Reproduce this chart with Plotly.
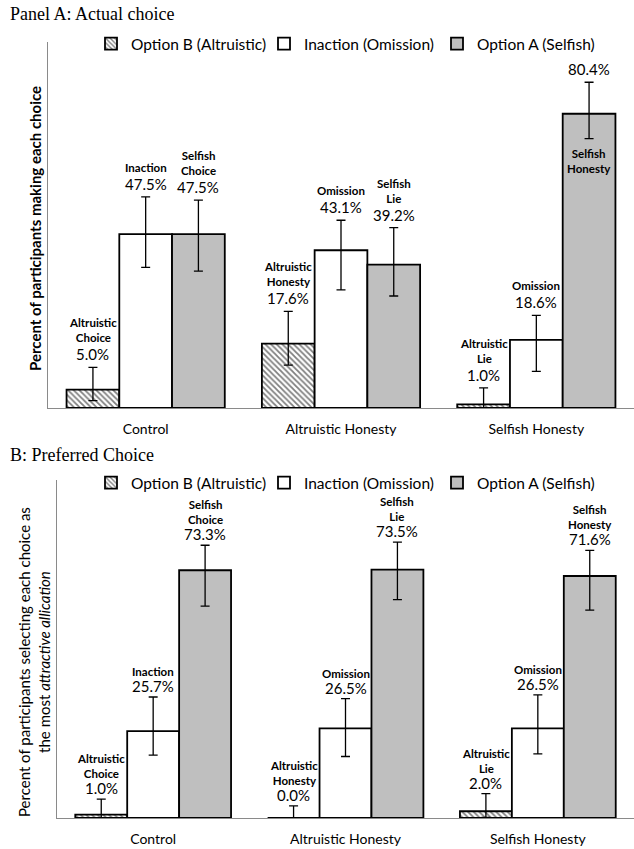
import plotly.graph_objects as go

# ---------------- data ----------------
categories = ["Control", "Altruistic Honesty", "Selfish Honesty"]
series_names = ["Option B (Altruistic)", "Inaction (Omission)", "Option A (Selfish)"]

# Panel A: actual choice (%)
a_altruistic = [5.0, 17.6, 1.0]
a_inaction = [47.5, 43.1, 18.6]
a_selfish = [47.5, 39.2, 80.4]
a_altruistic_up = [6.1, 8.8, 4.5]
a_altruistic_dn = [3.0, 5.9, 1.0]
a_inaction_up = [10.2, 8.2, 6.7]
a_inaction_dn = [9.1, 10.8, 8.6]
a_selfish_up = [9.3, 10.1, 8.6]
a_selfish_dn = [10.1, 8.6, 6.8]

# Panel B: preferred choice (%)
b_altruistic = [1.0, 0.0, 2.0]
b_inaction = [25.7, 26.5, 26.5]
b_selfish = [73.3, 73.5, 71.6]
b_altruistic_up = [4.6, 3.6, 5.2]
b_altruistic_dn = [1.0, 0.0, 1.8]
b_inaction_up = [10.1, 8.8, 9.9]
b_inaction_dn = [7.1, 8.3, 7.5]
b_selfish_up = [7.4, 8.1, 7.6]
b_selfish_dn = [10.6, 8.9, 10.1]

# bar name labels
altruistic_labels = ["Altruistic<br>Choice", "Altruistic<br>Honesty", "Altruistic<br>Lie"]
inaction_labels = ["Inaction", "Omission", "Omission"]
selfish_labels = ["Selfish<br>Choice", "Selfish<br>Lie", "Selfish<br>Honesty"]

# ---------------- styling ----------------
FONT = "Lato"
fills = ["white", "white", "#bfbfbf"]
BARGAP = 0.19
BW = (1 - BARGAP) / 3

fig = go.Figure()

panels = [
    dict(xa="x", ya="y", leg="legend",
         vals=[a_altruistic, a_inaction, a_selfish],
         up=[a_altruistic_up, a_inaction_up, a_selfish_up],
         dn=[a_altruistic_dn, a_inaction_dn, a_selfish_dn],
         inside={(2, 2)}, pshift=2, nshift=21),
    dict(xa="x2", ya="y2", leg="legend2",
         vals=[b_altruistic, b_inaction, b_selfish],
         up=[b_altruistic_up, b_inaction_up, b_selfish_up],
         dn=[b_altruistic_dn, b_inaction_dn, b_selfish_dn],
         inside=set(), pshift=0, nshift=17),
]
labels = [altruistic_labels, inaction_labels, selfish_labels]

annotations = []
for p in panels:
    for j in range(3):
        marker = dict(color=fills[j], line=dict(color="black", width=1.8))
        if j == 0:
            marker["pattern"] = dict(shape="\\", fgcolor="black", bgcolor="white",
                                     size=4, solidity=0.45)
        fig.add_trace(go.Bar(
            x=categories, y=p["vals"][j], name=series_names[j],
            xaxis=p["xa"], yaxis=p["ya"], legend=p["leg"],
            marker=marker,
            error_y=dict(type="data", symmetric=False, array=p["up"][j],
                         arrayminus=p["dn"][j], color="black", thickness=1.3, width=4.5),
            hoverinfo="skip",
        ))
        for i in range(3):
            v = p["vals"][j][i]
            xpos = i + (j - 1) * BW
            top = v + p["up"][j][i]
            annotations.append(dict(
                x=xpos, y=top, xref=p["xa"], yref=p["ya"], text=f"{v:.1f}%",
                showarrow=False, yanchor="bottom", yshift=p["pshift"],
                font=dict(family=FONT, size=15, color="black")))
            if (i, j) in p["inside"]:
                annotations.append(dict(
                    x=xpos, y=v - p["dn"][j][i], xref=p["xa"], yref=p["ya"],
                    text=f"<b>{labels[j][i]}</b>", showarrow=False,
                    yanchor="top", yshift=-6,
                    font=dict(family=FONT, size=11.5, color="black")))
            else:
                annotations.append(dict(
                    x=xpos, y=top, xref=p["xa"], yref=p["ya"],
                    text=f"<b>{labels[j][i]}</b>", showarrow=False,
                    yanchor="bottom", yshift=p["nshift"],
                    font=dict(family=FONT, size=11.5, color="black")))

W, H = 634, 849
annotations += [
    dict(text="Panel A: Actual choice", x=8 / W, y=1 - 14 / H, xref="paper", yref="paper",
         xanchor="left", yanchor="middle", showarrow=False,
         font=dict(family="Liberation Serif", size=18, color="black")),
    dict(text="B: Preferred Choice", x=8 / W, y=1 - 455 / H, xref="paper", yref="paper",
         xanchor="left", yanchor="middle", showarrow=False,
         font=dict(family="Liberation Serif", size=18, color="black")),
    dict(text="<b>Percent of participants making each choice</b>", textangle=-90,
         x=35 / W, y=1 - 229 / H, xref="paper", yref="paper",
         xanchor="center", yanchor="middle", showarrow=False,
         font=dict(family=FONT, size=15, color="black")),
    dict(text="Percent of participants selecting each choice as<br>the most <i>attractive allication</i>",
         textangle=-90, x=34 / W, y=1 - 662 / H, xref="paper", yref="paper",
         xanchor="center", yanchor="middle", showarrow=False,
         font=dict(family=FONT, size=15, color="black")),
]

xcommon = dict(showline=True, linecolor="#8a8a8a", linewidth=1.2, showgrid=False,
               ticks="", tickfont=dict(family=FONT, size=14, color="black"),
               ticklabelstandoff=8, range=[-0.5, 2.5], fixedrange=True)
ycommon = dict(showline=True, linecolor="#8a8a8a", linewidth=1.2, showgrid=False,
               zeroline=False, showticklabels=False, ticks="", range=[0, 100],
               fixedrange=True)

legcommon = dict(orientation="h", xanchor="left", yanchor="middle",
                 font=dict(family=FONT, size=15.5, color="black"),
                 entrywidth=128, bgcolor="rgba(0,0,0,0)", traceorder="normal")

fig.update_layout(
    width=W, height=H, margin=dict(l=0, r=0, t=0, b=0),
    paper_bgcolor="white", plot_bgcolor="white",
    barmode="group", bargap=BARGAP, bargroupgap=0,
    xaxis=dict(domain=[48 / W, 1], anchor="y", **xcommon),
    yaxis=dict(domain=[1 - 408 / H, 1 - 42 / H], anchor="x", **ycommon),
    xaxis2=dict(domain=[57 / W, 1], anchor="y2", **xcommon),
    yaxis2=dict(domain=[1 - 818 / H, 1 - 480 / H], anchor="x2", **ycommon),
    legend=dict(x=91 / W, y=1 - 44 / H, **legcommon),
    legend2=dict(x=91 / W, y=1 - 483 / H, **legcommon),
    annotations=annotations,
    showlegend=True,
)

fig.write_html("out.html", config={"displayModeBar": False},
               post_script="document.body.style.margin='0';document.body.style.overflow='hidden';")
